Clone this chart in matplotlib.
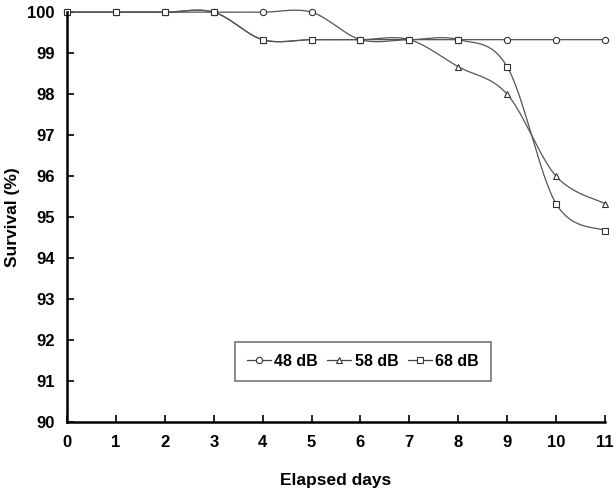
import numpy as np
import matplotlib
matplotlib.use('Agg')
import matplotlib.pyplot as plt

plt.rcParams['font.family'] = ['Liberation Sans', 'DejaVu Sans']
plt.rcParams['font.weight'] = 'bold'

days = [0, 1, 2, 3, 4, 5, 6, 7, 8, 9, 10, 11]
db48 = [100, 100, 100, 100, 100, 100, 99.33, 99.33, 99.33, 99.33, 99.33, 99.33]
db58 = [100, 100, 100, 100, 99.33, 99.33, 99.33, 99.33, 98.67, 98.0, 96.0, 95.33]
db68 = [100, 100, 100, 100, 99.33, 99.33, 99.33, 99.33, 99.33, 98.67, 95.33, 94.67]
labels = ['48 dB', '58 dB', '68 dB']
markers = ['o', '^', 's']


def smooth(x, y, n=30): # spreadsheet-style smoothed line through the points
  x = np.asarray(x, float)
  y = np.asarray(y, float)
  px = np.concatenate([[x[0]], x, [x[-1]]])
  py = np.concatenate([[y[0]], y, [y[-1]]])
  xs, ys = [], []
  t = np.linspace(0, 1, n)
  for i in range(1, len(px) - 2):
    p0 = np.array([px[i], py[i]])
    p3 = np.array([px[i + 1], py[i + 1]])
    c1 = p0 + (np.array([px[i + 1], py[i + 1]]) - np.array([px[i - 1], py[i - 1]])) / 6
    c2 = p3 - (np.array([px[i + 2], py[i + 2]]) - np.array([px[i], py[i]])) / 6
    b = ((1 - t) ** 3)[:, None] * p0 + (3 * (1 - t) ** 2 * t)[:, None] * c1 \
      + (3 * (1 - t) * t ** 2)[:, None] * c2 + (t ** 3)[:, None] * p3
    xs.extend(b[:, 0])
    ys.extend(b[:, 1])
  return xs, ys


fig = plt.figure(figsize=(6.16, 4.88), dpi=100)
ax = fig.add_axes([0.109, 0.135, 0.873, 0.84])

for series, lab, mk in zip([db48, db58, db68], labels, markers):
  sx, sy = smooth(days, series)
  ax.plot(sx, sy, color='#555555', linewidth=0.9, clip_on=False)
  ax.plot(days, series, linestyle='none', marker=mk, markersize=4.5, clip_on=False,
          markerfacecolor='white', markeredgecolor='#333333', markeredgewidth=0.8)
  ax.plot([], [], color='#444444', linewidth=0.9, marker=mk, markersize=4.5,
          markerfacecolor='white', markeredgecolor='#333333', markeredgewidth=0.8,
          label=lab)

ax.set_xlim(0, 11)
ax.set_ylim(90, 100)
ax.set_xticks(days)
ax.set_yticks(np.arange(90, 101, 1))
ax.spines['top'].set_visible(False)
ax.spines['right'].set_visible(False)
ax.spines['left'].set_linewidth(1.8)
ax.spines['bottom'].set_linewidth(1.8)
ax.tick_params(direction='in', length=5, width=1.2, labelsize=12, pad=9)
ax.set_xlabel('Elapsed days', fontsize=12.5, fontweight='bold')
ax.set_ylabel('Survival (%)', fontsize=12.5, fontweight='bold')
ax.xaxis.set_label_coords(0.5, -0.125)
ax.yaxis.set_label_coords(-0.088, 0.5)

leg = ax.legend(loc='center', bbox_to_anchor=(0.55, 0.148), ncol=3, frameon=True,
                fancybox=False, edgecolor='#555555', fontsize=11.5, handlelength=1.5,
                handletextpad=0.2, columnspacing=0.6, borderpad=0.75)
leg.get_frame().set_linewidth(1.2)

fig.savefig('out.png', dpi=100)
